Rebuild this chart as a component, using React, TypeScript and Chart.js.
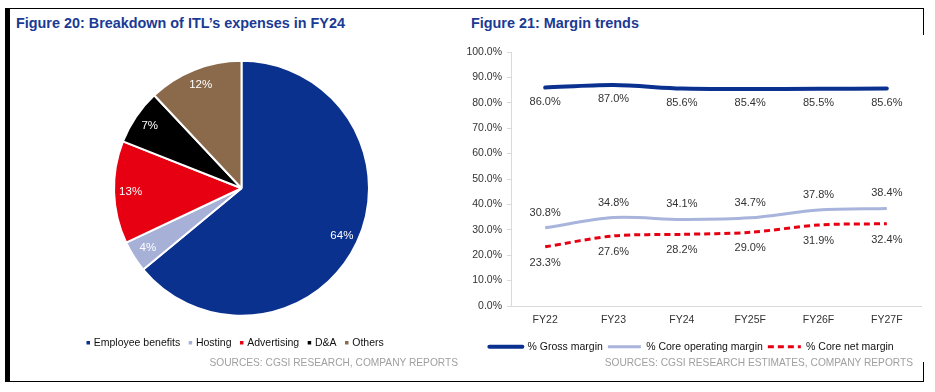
import React, { useEffect, useRef } from 'react';
import { Chart, registerables } from 'chart.js';

Chart.register(...registerables);

const FONT = "'Liberation Sans', Arial, Helvetica, sans-serif";

// ---- Figure 20 data ----
const pieLabels = ['Employee benefits', 'Hosting', 'Advertising', 'D&A', 'Others'];
const pieValues = [64, 4, 13, 7, 12];
const pieColors = ['#0b318f', '#a7b1d8', '#e60012', '#000000', '#8a6a4b'];

// ---- Figure 21 data ----
const years = ['FY22', 'FY23', 'FY24', 'FY25F', 'FY26F', 'FY27F'];
const grossMargin = [86.0, 87.0, 85.6, 85.4, 85.5, 85.6];
const coreOperatingMargin = [30.8, 34.8, 34.1, 34.7, 37.8, 38.4];
const coreNetMargin = [23.3, 27.6, 28.2, 29.0, 31.9, 32.4];
const seriesNames = ['% Gross margin', '% Core operating margin', '% Core net margin'];
const yMin = 0;
const yMax = 100;
const yStep = 10;

const pieLabelPlugin = {
  id: 'pieValueLabels',
  afterDatasetsDraw(chart: any) {
    const { ctx } = chart;
    const meta = chart.getDatasetMeta(0);
    ctx.save();
    ctx.font = `11.5px ${FONT}`;
    ctx.fillStyle = '#ffffff';
    ctx.textAlign = 'center';
    ctx.textBaseline = 'middle';
    meta.data.forEach((arc: any, i: number) => {
      const p = arc.getProps(['x', 'y', 'startAngle', 'endAngle', 'outerRadius'], true);
      const mid = (p.startAngle + p.endAngle) / 2;
      const r = p.outerRadius * 0.87;
      ctx.fillText(`${pieValues[i]}%`, p.x + Math.cos(mid) * r, p.y + Math.sin(mid) * r);
    });
    ctx.restore();
  },
};

const labelOffsets = [14, -15, 16];
const lineLabelPlugin = {
  id: 'lineValueLabels',
  afterDatasetsDraw(chart: any) {
    const { ctx } = chart;
    ctx.save();
    ctx.font = `11px ${FONT}`;
    ctx.fillStyle = '#333333';
    ctx.textAlign = 'center';
    ctx.textBaseline = 'middle';
    chart.data.datasets.forEach((ds: any, di: number) => {
      const meta = chart.getDatasetMeta(di);
      meta.data.forEach((pt: any, i: number) => {
        ctx.fillText(`${Number(ds.data[i]).toFixed(1)}%`, pt.x, pt.y + labelOffsets[di]);
      });
    });
    ctx.restore();
  },
};

export default function App() {
  const pieRef = useRef<HTMLCanvasElement>(null);
  const lineRef = useRef<HTMLCanvasElement>(null);

  useEffect(() => {
    const pie = new Chart(pieRef.current as HTMLCanvasElement, {
      type: 'pie',
      data: {
        labels: pieLabels,
        datasets: [
          {
            data: pieValues,
            backgroundColor: pieColors,
            borderColor: '#ffffff',
            borderWidth: 2,
            radius: 127.5,
          } as any,
        ],
      },
      options: {
        animation: false,
        responsive: false,
        layout: { padding: 0 },
        plugins: {
          tooltip: { enabled: false },
          legend: {
            position: 'bottom',
            align: 'start',
            labels: {
              usePointStyle: true,
              pointStyle: 'rect',
              boxWidth: 0.5,
              boxHeight: 3.5,
              padding: 10,
              color: '#111111',
              font: { family: FONT, size: 10.5 },
              generateLabels: () =>
                pieLabels.map((t, i) => ({
                  text: t,
                  fillStyle: pieColors[i],
                  strokeStyle: pieColors[i],
                  lineWidth: 0,
                  pointStyle: 'rect',
                  hidden: false,
                  index: i,
                  fontColor: '#111111',
                })),
            },
          },
        },
      } as any,
      plugins: [pieLabelPlugin],
    });

    const lineColors = ['#0b3190', '#a8b4dc', '#e60012'];
    const lineWidths = [4, 3, 3];
    const lineDashes: number[][] = [[], [], [6, 4]];
    const lineCaps = ['round', 'butt', 'butt'];
    const seriesData = [grossMargin, coreOperatingMargin, coreNetMargin];

    const line = new Chart(lineRef.current as HTMLCanvasElement, {
      type: 'line',
      data: {
        labels: years,
        datasets: seriesData.map((d, i) => ({
          label: seriesNames[i],
          data: d,
          borderColor: lineColors[i],
          backgroundColor: lineColors[i],
          borderWidth: lineWidths[i],
          borderDash: lineDashes[i],
          borderCapStyle: lineCaps[i],
          pointRadius: 0,
          pointHoverRadius: 0,
          tension: 0.3,
          fill: false,
        })) as any,
      },
      options: {
        animation: false,
        responsive: false,
        layout: { padding: { top: 12, right: 6, left: 0, bottom: 0 } },
        scales: {
          x: {
            type: 'category',
            offset: true,
            grid: { display: false, drawTicks: false },
            border: { display: true, color: '#d9d9d9', width: 1 },
            ticks: {
              padding: 8,
              color: '#333333',
              font: { family: FONT, size: 10.5 },
              maxRotation: 0,
              autoSkip: false,
            },
            afterFit: (s: any) => {
              s.height = 30.5;
            },
          },
          y: {
            min: yMin,
            max: yMax,
            ticks: {
              stepSize: yStep,
              padding: 5,
              color: '#333333',
              font: { family: FONT, size: 10.5 },
              callback: (v: any) => `${Number(v).toFixed(1)}%`,
            },
            grid: { display: true, drawOnChartArea: false, drawTicks: true, tickLength: 4, color: '#d9d9d9' },
            border: { display: true, color: '#d9d9d9', width: 1 },
            afterFit: (s: any) => {
              s.width = 49;
            },
          },
        },
        plugins: {
          tooltip: { enabled: false },
          legend: {
            position: 'bottom',
            align: 'center',
            labels: {
              usePointStyle: true,
              pointStyle: 'line',
              pointStyleWidth: 33,
              padding: 5,
              color: '#111111',
              font: { family: FONT, size: 10.5 },
              generateLabels: () =>
                seriesNames.map((t, i) => ({
                  text: t,
                  fillStyle: lineColors[i],
                  strokeStyle: lineColors[i],
                  lineWidth: lineWidths[i],
                  lineDash: lineDashes[i],
                  lineCap: lineCaps[i],
                  pointStyle: 'line',
                  hidden: false,
                  datasetIndex: i,
                  fontColor: '#111111',
                })),
            },
          },
        },
      } as any,
      plugins: [lineLabelPlugin],
    });

    return () => {
      pie.destroy();
      line.destroy();
    };
  }, []);

  const abs = (s: React.CSSProperties): React.CSSProperties => ({ position: 'absolute', ...s });

  return (
    <div
      style={{
        position: 'fixed',
        left: 0,
        top: 0,
        width: 935,
        height: 392,
        background: '#ffffff',
        fontFamily: FONT,
        overflow: 'hidden',
      }}
    >
      {/* frame */}
      <div style={abs({ left: 5, top: 8, width: 919, height: 1, background: '#000' })} />
      <div style={abs({ left: 5, top: 8, width: 5, height: 374, background: '#000' })} />
      <div style={abs({ left: 5, top: 381, width: 919, height: 1, background: '#000' })} />
      <div style={abs({ left: 923, top: 8, width: 1, height: 27, background: '#000' })} />
      <div style={abs({ left: 923, top: 362, width: 1, height: 20, background: '#000' })} />

      {/* titles */}
      <div
        style={abs({
          left: 16,
          top: 15,
          fontSize: 14.4,
          lineHeight: '17px',
          fontWeight: 'bold',
          color: '#1a3a94',
          whiteSpace: 'nowrap',
        })}
      >
        Figure 20: Breakdown of ITL’s expenses in FY24
      </div>
      <div
        style={abs({
          left: 471,
          top: 15,
          fontSize: 14.4,
          lineHeight: '17px',
          fontWeight: 'bold',
          color: '#1a3a94',
          whiteSpace: 'nowrap',
        })}
      >
        Figure 21: Margin trends
      </div>

      <canvas
        ref={pieRef}
        width={327}
        height={309}
        style={abs({ left: 78, top: 49, width: 327, height: 309 })}
      />
      <canvas
        ref={lineRef}
        width={465}
        height={322}
        style={abs({ left: 462, top: 40, width: 465, height: 322 })}
      />

      {/* sources */}
      <div
        style={abs({
          right: 935 - 458,
          top: 357,
          fontSize: 10.2,
          lineHeight: '12px',
          color: '#a0a0a0',
          whiteSpace: 'nowrap',
          textAlign: 'right',
        })}
      >
        SOURCES: CGSI RESEARCH, COMPANY REPORTS
      </div>
      <div
        style={abs({
          right: 935 - 913,
          top: 357,
          fontSize: 10.2,
          lineHeight: '12px',
          color: '#a0a0a0',
          whiteSpace: 'nowrap',
          textAlign: 'right',
        })}
      >
        SOURCES: CGSI RESEARCH ESTIMATES, COMPANY REPORTS
      </div>
    </div>
  );
}
